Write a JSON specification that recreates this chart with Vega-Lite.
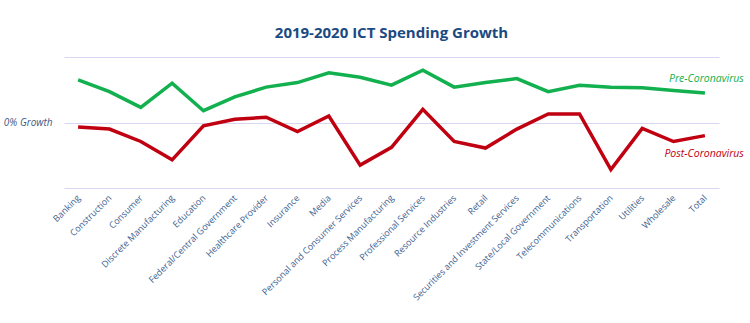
{
  "$schema": "https://vega.github.io/schema/vega-lite/v6.json",
  "width": 655,
  "height": 131,
  "autosize": {"type": "none"},
  "padding": {"left": 64, "top": 57, "right": 31, "bottom": 135},
  "title": {"text": "2019-2020 ICT Spending Growth", "font": "Open Sans", "fontSize": 15, "fontWeight": "bold", "color": "#1b4a82", "offset": 16, "anchor": "middle"},
  "config": {"view": {"stroke": null}},
  "datasets": {
    "series": [
      {"sector": "Banking", "series": "Pre-Coronavirus", "growth": 0.65},
      {"sector": "Construction", "series": "Pre-Coronavirus", "growth": 0.47},
      {"sector": "Consumer", "series": "Pre-Coronavirus", "growth": 0.23},
      {"sector": "Discrete Manufacturing", "series": "Pre-Coronavirus", "growth": 0.6},
      {"sector": "Education", "series": "Pre-Coronavirus", "growth": 0.18},
      {"sector": "Federal/Central Government", "series": "Pre-Coronavirus", "growth": 0.39},
      {"sector": "Healthcare Provider", "series": "Pre-Coronavirus", "growth": 0.54},
      {"sector": "Insurance", "series": "Pre-Coronavirus", "growth": 0.61},
      {"sector": "Media", "series": "Pre-Coronavirus", "growth": 0.76},
      {"sector": "Personal and Consumer Services", "series": "Pre-Coronavirus", "growth": 0.69},
      {"sector": "Process Manufacturing", "series": "Pre-Coronavirus", "growth": 0.57},
      {"sector": "Professional Services", "series": "Pre-Coronavirus", "growth": 0.8},
      {"sector": "Resource Industries", "series": "Pre-Coronavirus", "growth": 0.54},
      {"sector": "Retail", "series": "Pre-Coronavirus", "growth": 0.61},
      {"sector": "Securities and Investment Services", "series": "Pre-Coronavirus", "growth": 0.67},
      {"sector": "State/Local Government", "series": "Pre-Coronavirus", "growth": 0.47},
      {"sector": "Telecommunications", "series": "Pre-Coronavirus", "growth": 0.57},
      {"sector": "Transportation", "series": "Pre-Coronavirus", "growth": 0.54},
      {"sector": "Utilities", "series": "Pre-Coronavirus", "growth": 0.53},
      {"sector": "Wholesale", "series": "Pre-Coronavirus", "growth": 0.49},
      {"sector": "Total", "series": "Pre-Coronavirus", "growth": 0.45},
      {"sector": "Banking", "series": "Post-Coronavirus", "growth": -0.07},
      {"sector": "Construction", "series": "Post-Coronavirus", "growth": -0.1},
      {"sector": "Consumer", "series": "Post-Coronavirus", "growth": -0.29},
      {"sector": "Discrete Manufacturing", "series": "Post-Coronavirus", "growth": -0.57},
      {"sector": "Education", "series": "Post-Coronavirus", "growth": -0.05},
      {"sector": "Federal/Central Government", "series": "Post-Coronavirus", "growth": 0.05},
      {"sector": "Healthcare Provider", "series": "Post-Coronavirus", "growth": 0.08},
      {"sector": "Insurance", "series": "Post-Coronavirus", "growth": -0.14},
      {"sector": "Media", "series": "Post-Coronavirus", "growth": 0.1},
      {"sector": "Personal and Consumer Services", "series": "Post-Coronavirus", "growth": -0.65},
      {"sector": "Process Manufacturing", "series": "Post-Coronavirus", "growth": -0.38},
      {"sector": "Professional Services", "series": "Post-Coronavirus", "growth": 0.2},
      {"sector": "Resource Industries", "series": "Post-Coronavirus", "growth": -0.29},
      {"sector": "Retail", "series": "Post-Coronavirus", "growth": -0.39},
      {"sector": "Securities and Investment Services", "series": "Post-Coronavirus", "growth": -0.1},
      {"sector": "State/Local Government", "series": "Post-Coronavirus", "growth": 0.13},
      {"sector": "Telecommunications", "series": "Post-Coronavirus", "growth": 0.13},
      {"sector": "Transportation", "series": "Post-Coronavirus", "growth": -0.72},
      {"sector": "Utilities", "series": "Post-Coronavirus", "growth": -0.09},
      {"sector": "Wholesale", "series": "Post-Coronavirus", "growth": -0.29},
      {"sector": "Total", "series": "Post-Coronavirus", "growth": -0.2}
    ],
    "labels": [
      {"sector": "Total", "series": "Pre-Coronavirus", "growth": 0.66},
      {"sector": "Total", "series": "Post-Coronavirus", "growth": -0.48}
    ]
  },
  "encoding": {
    "x": {
      "field": "sector", "type": "nominal", "sort": null,
      "scale": {"type": "point", "padding": 0.45},
      "axis": {"title": null, "labelAngle": -45, "labelFont": "Open Sans", "labelFontSize": 9, "labelColor": "#3d6190", "labelPadding": 8, "ticks": false, "domain": false, "grid": false, "labelAlign": "right", "labelBaseline": "middle", "labelOverlap": false, "labelBound": false}
    },
    "y": {
      "field": "growth", "type": "quantitative",
      "scale": {"domain": [-1, 1], "nice": false, "zero": false},
      "axis": {"title": null, "values": [-1, 0, 1], "labelExpr": "datum.value == 0 ? '0% Growth' : ''", "labelFont": "Open Sans", "labelFontStyle": "italic", "labelFontSize": 10, "labelColor": "#3d5a85", "labelPadding": 12, "ticks": false, "domain": false, "gridColor": "#d6d6f0", "gridWidth": 1}
    },
    "color": {
      "field": "series", "type": "nominal",
      "scale": {"domain": ["Pre-Coronavirus", "Post-Coronavirus"], "range": ["#12b04e", "#c00010"]},
      "legend": null
    }
  },
  "layer": [
    {
      "data": {"name": "series"},
      "mark": {"type": "line", "strokeWidth": 3.5, "strokeJoin": "miter"}
    },
    {
      "data": {"name": "labels"},
      "mark": {"type": "text", "align": "right", "baseline": "middle", "dx": 39, "font": "Open Sans", "fontStyle": "italic", "fontSize": 10.5},
      "encoding": {"text": {"field": "series"}}
    }
  ]
}
